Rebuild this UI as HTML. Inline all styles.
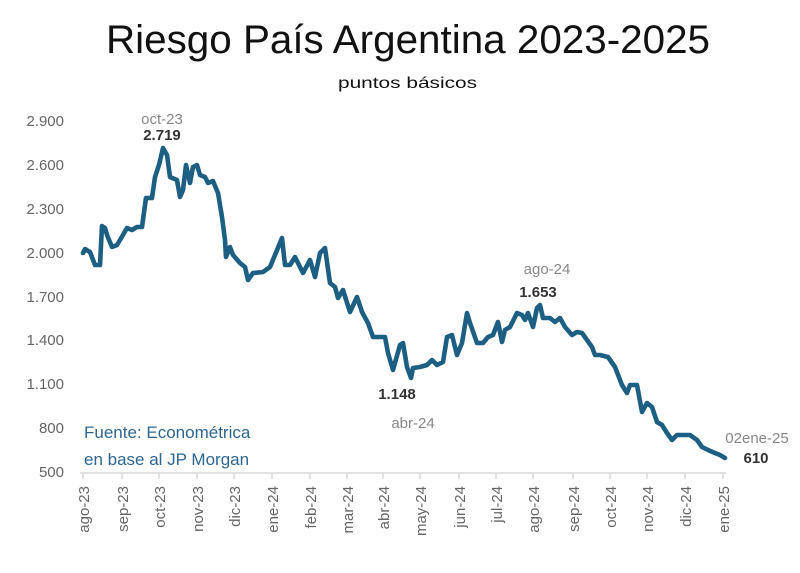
<!DOCTYPE html>
<html><head><meta charset="utf-8"><style>
body{margin:0;background:#fff;}
svg text{font-family:"Liberation Sans",sans-serif;}
</style></head><body>
<svg width="800" height="568" viewBox="0 0 800 568" xmlns="http://www.w3.org/2000/svg">
<rect width="800" height="568" fill="#fff"/>
<text x="106" y="53" font-size="40" textLength="604" lengthAdjust="spacingAndGlyphs" fill="#111">Riesgo País Argentina 2023-2025</text>
<text x="338" y="88" font-size="16" textLength="139" lengthAdjust="spacingAndGlyphs" fill="#111">puntos básicos</text>
<g font-size="15" fill="#666" text-anchor="end">
<text x="64" y="126">2.900</text><text x="64" y="170">2.600</text><text x="64" y="214">2.300</text>
<text x="64" y="258">2.000</text><text x="64" y="302">1.700</text><text x="64" y="345">1.400</text>
<text x="64" y="389">1.100</text><text x="64" y="433">800</text><text x="64" y="477">500</text>
</g>
<line x1="80" y1="473" x2="726" y2="473" stroke="#d9d9d9" stroke-width="1.5"/>
<g stroke="#d9d9d9" stroke-width="1.5">
<line x1="83" y1="473" x2="83" y2="479"/><line x1="122" y1="473" x2="122" y2="479"/><line x1="159" y1="473" x2="159" y2="479"/><line x1="197" y1="473" x2="197" y2="479"/><line x1="234" y1="473" x2="234" y2="479"/><line x1="272" y1="473" x2="272" y2="479"/><line x1="310" y1="473" x2="310" y2="479"/><line x1="347" y1="473" x2="347" y2="479"/><line x1="383" y1="473" x2="383" y2="479"/><line x1="420" y1="473" x2="420" y2="479"/><line x1="459" y1="473" x2="459" y2="479"/><line x1="496" y1="473" x2="496" y2="479"/><line x1="533" y1="473" x2="533" y2="479"/><line x1="573" y1="473" x2="573" y2="479"/><line x1="610" y1="473" x2="610" y2="479"/><line x1="647" y1="473" x2="647" y2="479"/><line x1="685" y1="473" x2="685" y2="479"/><line x1="723" y1="473" x2="723" y2="479"/>
</g>
<g font-size="15" fill="#666" text-anchor="end">
<text transform="translate(89,486) rotate(-90)">ago-23</text>
<text transform="translate(128,486) rotate(-90)">sep-23</text>
<text transform="translate(165,486) rotate(-90)">oct-23</text>
<text transform="translate(203,486) rotate(-90)">nov-23</text>
<text transform="translate(240,486) rotate(-90)">dic-23</text>
<text transform="translate(278,486) rotate(-90)">ene-24</text>
<text transform="translate(316,486) rotate(-90)">feb-24</text>
<text transform="translate(353,486) rotate(-90)">mar-24</text>
<text transform="translate(389,486) rotate(-90)">abr-24</text>
<text transform="translate(426,486) rotate(-90)">may-24</text>
<text transform="translate(465,486) rotate(-90)">jun-24</text>
<text transform="translate(502,486) rotate(-90)">jul-24</text>
<text transform="translate(539,486) rotate(-90)">ago-24</text>
<text transform="translate(579,486) rotate(-90)">sep-24</text>
<text transform="translate(616,486) rotate(-90)">oct-24</text>
<text transform="translate(653,486) rotate(-90)">nov-24</text>
<text transform="translate(691,486) rotate(-90)">dic-24</text>
<text transform="translate(729,486) rotate(-90)">ene-25</text>
</g>
<polyline fill="none" stroke="#1d5f82" stroke-width="4.6" stroke-linejoin="round" stroke-linecap="round" points="83,253 85,249 90,252 95,265 100,265 102,226 105,228 107,235 112,247 117,245 120,240 127,228 132,230 137,227 142,227 146,198 152,198 155,177 159,165 163,148 167,155 170,177 177,180 180,197 183,190 186,165 190,183 193,167 197,165 200,175 205,177 208,183 213,181 218,193 222,217 225,240 226,257 230,247 233,255 240,263 245,267 248,280 253,273 263,272 270,267 275,255 282,238 285,265 290,265 295,257 303,273 310,260 315,277 320,253 325,248 330,283 335,287 338,298 343,290 350,312 357,297 362,312 368,323 373,337 385,337 388,353 393,370 400,345 403,343 407,367 411,378 413,368 420,367 427,365 432,360 437,365 443,362 447,337 452,335 457,355 462,343 467,313 470,323 477,343 483,343 488,337 493,335 498,322 502,342 505,330 510,327 517,313 522,315 525,320 528,313 533,327 537,308 540,305 543,318 550,318 555,322 560,318 565,327 572,335 577,332 582,333 587,340 592,347 595,355 600,355 608,357 615,367 622,385 627,393 630,385 637,385 642,412 647,403 652,407 657,422 662,425 667,433 672,440 677,435 690,435 697,440 702,447 708,450 715,453 720,455 725,458"/>
<g font-size="15" text-anchor="middle">
<text x="162" y="124" fill="#888">oct-23</text>
<text x="162" y="140" fill="#333" font-weight="bold">2.719</text>
<text x="547" y="274" fill="#888">ago-24</text>
<text x="538" y="297" fill="#333" font-weight="bold">1.653</text>
<text x="397" y="399" fill="#333" font-weight="bold">1.148</text>
<text x="413" y="428" fill="#888">abr-24</text>
<text x="757" y="443" fill="#888">02ene-25</text>
<text x="756" y="463" fill="#333" font-weight="bold">610</text>
</g>
<text x="84" y="438" font-size="17" fill="#2f6690">Fuente: Econométrica</text>
<text x="84" y="465" font-size="17" fill="#2f6690">en base al JP Morgan</text>
</svg>
</body></html>
